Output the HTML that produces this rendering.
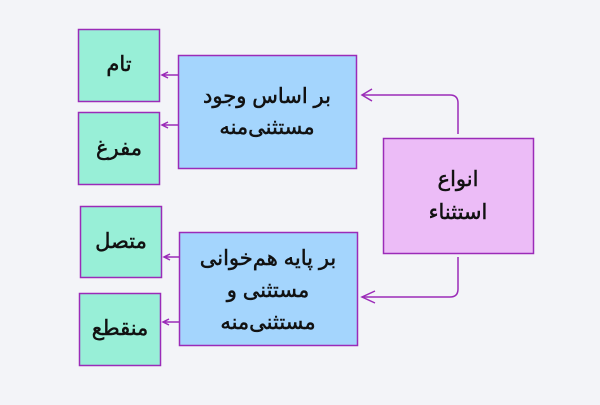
<!DOCTYPE html>
<html><head><meta charset="utf-8"><style>
body{margin:0;width:600px;height:400px;background:#f3f4f8;overflow:hidden;font-family:"Liberation Sans","DejaVu Sans",sans-serif}
</style></head><body>
<svg width="600" height="400" xmlns="http://www.w3.org/2000/svg">
<g stroke="#9b2bb8" stroke-width="1.5">
<rect x="78.5" y="29.5" width="81" height="72" fill="#98efd7"/>
<rect x="78.5" y="112.5" width="81" height="72" fill="#98efd7"/>
<rect x="80.5" y="206.5" width="81" height="71" fill="#98efd7"/>
<rect x="79.5" y="293.5" width="81" height="72" fill="#98efd7"/>
<rect x="178.5" y="55.5" width="178" height="113" fill="#a4d5fd"/>
<rect x="179.5" y="232.5" width="178" height="113" fill="#a4d5fd"/>
<rect x="383.5" y="138.5" width="150" height="115" fill="#ecbcf7"/>
</g>
<g stroke="#9b2bb8" stroke-width="1.5" fill="none">
<path d="M458 134 V103 Q458 95 450 95 H362"/>
<path d="M372 89 L362 95 L372 101"/>
<path d="M458 257 V289 Q458 297 450 297 H362"/>
<path d="M375 291 L362 297 L375 303"/>
<path d="M178 75 H162 M168 72 L162 75 L168 78"/>
<path d="M178 125 H162 M168 122 L162 125 L168 128"/>
<path d="M179 257 H164 M170 254 L164 257 L170 260"/>
<path d="M179 322 H163 M169 319 L163 322 L169 325"/>
</g>
<g font-family="'Liberation Sans','DejaVu Sans',sans-serif" font-size="21" fill="#111" stroke="#111" stroke-width="0.5" text-anchor="middle" direction="rtl">
<text x="119" y="71">تام</text>
<text x="119" y="155">مفرغ</text>
<text x="121" y="248">متصل</text>
<text x="120" y="335">منقطع</text>
<text x="267" y="103">بر اساس وجود</text>
<text x="267" y="134">مستثنی‌منه</text>
<text x="268" y="265">بر پایه هم‌خوانی</text>
<text x="268" y="297">مستثنی و</text>
<text x="268" y="329">مستثنی‌منه</text>
<text x="458" y="186">انواع</text>
<text x="458" y="219">استثناء</text>
</g>
</svg>
</body></html>
